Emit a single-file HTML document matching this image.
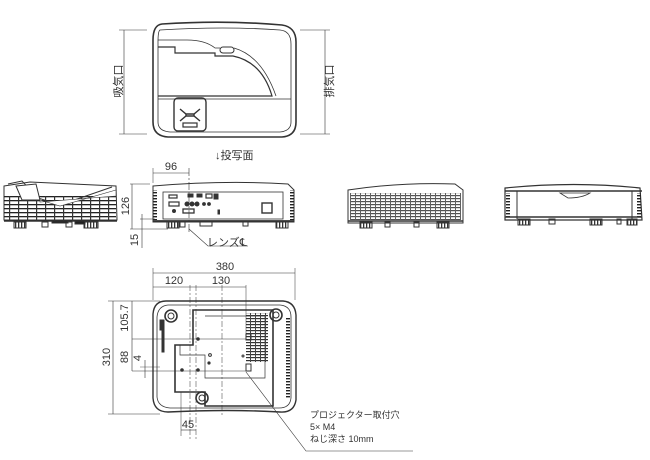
<!DOCTYPE html>
<html><head><meta charset="utf-8"><style>
html,body{margin:0;padding:0;background:#fff;width:650px;height:460px;overflow:hidden}
svg{display:block}
text{font-family:"Liberation Sans","Noto Sans CJK JP",sans-serif;fill:#333}
</style></head><body>
<svg width="650" height="460" viewBox="0 0 650 460" xmlns="http://www.w3.org/2000/svg">
<defs>
<pattern id="hl" width="4" height="3" patternUnits="userSpaceOnUse"><rect width="4" height="1.4" fill="#222"/></pattern>
<pattern id="grid" width="9" height="4" patternUnits="userSpaceOnUse"><rect width="9" height="1.3" fill="#222"/><rect width="1.2" height="4" fill="#333"/></pattern>
<pattern id="grid2" width="5" height="3" patternUnits="userSpaceOnUse"><rect width="5" height="1.2" fill="#333"/><rect width="1" height="3" fill="#444"/></pattern>
<pattern id="vl" width="3" height="4" patternUnits="userSpaceOnUse"><rect width="1.3" height="4" fill="#333"/></pattern>
</defs>
<g fill="none" stroke="#333" stroke-width="1">
<!-- TOP VIEW -->
<path d="M162 24 Q225 20 282 25 Q296 27 296 42 L296 122 Q296 136 282 137 L168 137 Q153 136 153 122 L153 40 Q153 25 162 24Z" stroke-width="1.6"/>
<path d="M160 30 Q225 26 280 30 Q291 31 291 44 L291 122 Q291 131 280 132 L170 132 Q158 131 158 122 L158 42 Q158 31 160 30Z" stroke-width="0.8"/>
<path d="M158 40 L187 40 Q205 40 215 48 L220 48" stroke-width="0.8"/>
<path d="M234 48 Q262 56 276 96" stroke-width="0.8"/>
<path d="M158 47 L175 47 L175 53 L215 53 L215 56 L233 56 Q262 62 272 96 L158 96" stroke-width="1.2"/>
<rect x="220" y="47" width="14" height="6" rx="3"/>
<line x1="158" y1="99" x2="291" y2="99" stroke-width="0.8"/>
<rect x="174" y="98" width="32" height="33" rx="4" stroke-width="1.4"/>
<path d="M180 109 L186 114 L194 114 L200 109 M180 121 L186 116 L194 116 L200 121 M186 114 L186 116 M194 114 L194 116" stroke-width="1.4"/>
<rect x="183" y="123" width="14" height="4" stroke-width="1.2"/>
<line x1="124" y1="30" x2="124" y2="134" stroke-width="0.6"/><line x1="119" y1="30" x2="147" y2="30" stroke-width="0.5"/><line x1="119" y1="134" x2="147" y2="134" stroke-width="0.5"/>
<line x1="325" y1="30" x2="325" y2="134" stroke-width="0.6"/><line x1="300" y1="30" x2="330" y2="30" stroke-width="0.5"/><line x1="300" y1="134" x2="330" y2="134" stroke-width="0.5"/>

<!-- LEFT SIDE VIEW -->
<path d="M4 186 L30 182 L116 186 L117 220 L4 220Z" stroke-width="1"/>
<rect x="4" y="196" width="112" height="25" fill="url(#grid)" stroke="none"/>
<path d="M8 184 L22 181 L38 198 L60 205 L112 187" stroke-width="1"/>
<path d="M16 186 L36 184 L40 200 L22 200Z" fill="#fff"/>
<path d="M40 200 L60 206 L116 190 L116 196 L40 202Z" fill="#fff" stroke-width="0.6"/>
<line x1="4" y1="221" x2="117" y2="221" stroke-width="1.6"/>
<rect x="14" y="222" width="12" height="6" fill="url(#vl)"/><rect x="84" y="222" width="14" height="6" fill="url(#vl)"/>
<rect x="42" y="222" width="6" height="5"/><rect x="66" y="222" width="6" height="5"/><rect x="52" y="221" width="16" height="2" fill="#222"/><rect x="75" y="221" width="10" height="3" fill="#222"/>

<!-- FRONT VIEW with ports -->
<path d="M153 186 Q225 180 288 184 L294 190 L294 222 L153 222Z" stroke-width="1"/>
<rect x="153" y="190" width="4" height="30" fill="url(#hl)" stroke="none"/><rect x="290" y="190" width="4" height="30" fill="url(#hl)" stroke="none"/>
<rect x="163" y="192" width="120" height="27" stroke-width="0.8"/>
<line x1="153" y1="221" x2="294" y2="221" stroke-width="1.8"/>
<rect x="169" y="195" width="8" height="3" stroke-width="1.2"/><rect x="188" y="194" width="5" height="3" fill="#333"/><rect x="197" y="194" width="5" height="3" fill="#333"/><rect x="206" y="194" width="6" height="4" stroke-width="1.2"/><rect x="214" y="194" width="4" height="5" fill="#333"/>
<rect x="169" y="202" width="10" height="4" stroke-width="1.2"/><circle cx="187" cy="204" r="2" fill="#333"/><circle cx="192" cy="204" r="2" fill="#333"/><circle cx="197" cy="204" r="2" fill="#333"/><circle cx="204" cy="204" r="1.4" fill="#333"/><circle cx="209" cy="204" r="1.4" fill="#333"/>
<circle cx="174" cy="211" r="1.5" fill="#333"/><rect x="183" y="209" width="11" height="4" stroke-width="1.3"/><rect x="218" y="210" width="1.5" height="4" fill="#333"/>
<rect x="262" y="203" width="10" height="10" stroke-width="1.4"/>
<rect x="167" y="222" width="12" height="6" fill="url(#vl)"/><rect x="276" y="222" width="12" height="6" fill="url(#vl)"/><rect x="180" y="222" width="5" height="5"/><rect x="200" y="222" width="12" height="4"/><rect x="243" y="222" width="5" height="4"/>
<!-- dims -->
<line x1="153" y1="173" x2="189" y2="173" stroke-width="0.6"/><line x1="153" y1="168" x2="153" y2="183" stroke-width="0.5"/>
<line x1="189" y1="168" x2="189" y2="232" stroke-width="0.6" stroke-dasharray="8,2,2,2"/>
<line x1="130" y1="184" x2="150" y2="184" stroke-width="0.5"/><line x1="132" y1="184" x2="132" y2="229" stroke-width="0.6"/><line x1="130" y1="229" x2="168" y2="229" stroke-width="0.5"/>
<line x1="140" y1="219" x2="155" y2="219" stroke-width="0.5"/><line x1="142" y1="214" x2="142" y2="248" stroke-width="0.6"/>
<path d="M189 229 L208 246 L248 246" stroke-width="0.6"/>

<!-- RIGHT SIDE VIEW -->
<path d="M348 190 Q400 182 455 184 L463 190 L463 223 L348 223Z" stroke-width="1"/>
<rect x="350" y="193" width="111" height="27" fill="url(#grid2)" stroke="none" opacity="0.85"/>
<line x1="348" y1="221" x2="463" y2="221" stroke-width="1.6"/>
<rect x="360" y="222" width="12" height="6" fill="url(#vl)"/><rect x="437" y="222" width="12" height="6" fill="url(#vl)"/><rect x="385" y="222" width="5" height="5"/><rect x="414" y="222" width="5" height="5"/>

<!-- BACK VIEW -->
<path d="M505 188 Q575 181 640 188 L642 220 L505 220Z" stroke-width="1.2"/>
<line x1="505" y1="191" x2="642" y2="191" stroke-width="1.4"/>
<rect x="506" y="193" width="4" height="26" fill="url(#hl)" stroke="none"/><rect x="637" y="193" width="4" height="26" fill="url(#hl)" stroke="none"/>
<line x1="517" y1="191" x2="517" y2="219"/><line x1="632" y1="191" x2="632" y2="219"/>
<path d="M560 193 L590 193 Q582 198 568 198Z" stroke-width="0.8"/>
<line x1="505" y1="217" x2="642" y2="217" stroke-width="1.6"/>
<rect x="518" y="219" width="12" height="6" fill="url(#vl)"/><rect x="590" y="219" width="12" height="6" fill="url(#vl)"/><rect x="627" y="219" width="10" height="6" fill="url(#vl)"/><rect x="549" y="219" width="6" height="5"/><rect x="617" y="219" width="4" height="5"/>

<!-- BOTTOM VIEW -->
<path d="M166 301 L283 301 Q295 302 296 315 L296 400 Q294 413 280 412 Q230 409 168 412 Q154 412 153 398 L153 314 Q154 301 166 301Z" stroke-width="1.4"/>
<path d="M168 305 L280 305 Q291 306 291 317 L291 398 Q290 408 279 408 L170 408 Q158 407 157 397 L157 317 Q158 306 168 305Z" stroke-width="0.8"/>
<path d="M193 310 L273 310 L273 406 L205 406 L205 392 L175 392 L175 345 L193 345Z" stroke-width="1.6"/>
<path d="M205 316 L265 316 L265 378 L205 378 L205 355 L180 355 L180 345" stroke-width="0.7"/>
<rect x="246" y="313" width="22" height="49" fill="url(#grid2)" stroke="none"/>
<rect x="286" y="318" width="4" height="80" fill="url(#hl)" stroke="none"/>
<circle cx="171" cy="316" r="6" stroke-width="1.6"/><circle cx="171" cy="316" r="3"/>
<circle cx="276" cy="315" r="6" stroke-width="1.6"/><circle cx="276" cy="315" r="3"/>
<circle cx="202" cy="398" r="6" stroke-width="1.6"/><circle cx="202" cy="398" r="3"/>
<rect x="160" y="320" width="4" height="10" fill="#333"/><rect x="162" y="330" width="2" height="22" fill="#333"/>
<rect x="246" y="334" width="5" height="6" stroke-width="1"/><rect x="246" y="364" width="5" height="7" stroke-width="1"/>
<circle cx="198" cy="339" r="1.3" fill="#333"/><circle cx="182" cy="370" r="1.3" fill="#333"/><circle cx="198" cy="370" r="1.3" fill="#333"/><circle cx="209" cy="363" r="1.1" fill="#333"/><circle cx="210" cy="355" r="1.4"/><circle cx="243" cy="356" r="1"/>
<line x1="132" y1="339" x2="246" y2="339" stroke-width="0.5"/><line x1="132" y1="371" x2="246" y2="371" stroke-width="0.5"/><line x1="140" y1="367" x2="160" y2="367" stroke-width="0.4"/>
<line x1="190" y1="285" x2="190" y2="440" stroke-width="0.5" stroke-dasharray="6,2,2,2"/>
<line x1="196" y1="285" x2="196" y2="440" stroke-width="0.5" stroke-dasharray="6,2,2,2"/>
<line x1="222" y1="285" x2="222" y2="415" stroke-width="0.5" stroke-dasharray="6,2,2,2"/>
<line x1="246" y1="285" x2="246" y2="339" stroke-width="0.5"/>
<line x1="153" y1="268" x2="153" y2="300" stroke-width="0.5"/><line x1="295" y1="268" x2="295" y2="300" stroke-width="0.5"/>
<line x1="153" y1="273" x2="295" y2="273" stroke-width="0.6"/>
<line x1="153" y1="287" x2="196" y2="287" stroke-width="0.6"/><line x1="196" y1="287" x2="246" y2="287" stroke-width="0.6"/>
<line x1="108" y1="301" x2="160" y2="301" stroke-width="0.5"/><line x1="108" y1="414" x2="160" y2="414" stroke-width="0.5"/>
<line x1="113" y1="301" x2="113" y2="414" stroke-width="0.6"/>
<line x1="132" y1="301" x2="132" y2="371" stroke-width="0.6"/>
<line x1="145" y1="360" x2="145" y2="378" stroke-width="0.6"/>
<line x1="181" y1="430" x2="196" y2="430" stroke-width="0.6"/><line x1="181" y1="392" x2="181" y2="436" stroke-width="0.5"/>
<path d="M246 372 L306 451 L413 451" stroke-width="0.6"/>
</g>
<g font-size="11">
<text x="122" y="81" text-anchor="middle" transform="rotate(-90 122 81)" font-size="11">吸気口</text>
<text x="333" y="81" text-anchor="middle" transform="rotate(-90 333 81)" font-size="11">排気口</text>
<text x="215" y="159" font-size="11">↓投写面</text>
<text x="171" y="170" text-anchor="middle">96</text>
<text x="129" y="206" text-anchor="middle" transform="rotate(-90 129 206)">126</text>
<text x="138" y="240" text-anchor="middle" transform="rotate(-90 138 240)">15</text>
<text x="207" y="246" font-size="11">レンズ℄</text>
<text x="225" y="270" text-anchor="middle">380</text>
<text x="174" y="284" text-anchor="middle">120</text>
<text x="221" y="284" text-anchor="middle">130</text>
<text x="110" y="357" text-anchor="middle" transform="rotate(-90 110 357)">310</text>
<text x="128" y="318" text-anchor="middle" transform="rotate(-90 128 318)">105.7</text>
<text x="128" y="357" text-anchor="middle" transform="rotate(-90 128 357)">88</text>
<text x="141" y="358" text-anchor="middle" transform="rotate(-90 141 358)">4</text>
<text x="188" y="428" text-anchor="middle">45</text>
<text x="310" y="418" font-size="9">プロジェクター取付穴</text>
<text x="310" y="430" font-size="9">5× M4</text>
<text x="310" y="442" font-size="9">ねじ深さ 10mm</text>
</g>
</svg>
</body></html>
